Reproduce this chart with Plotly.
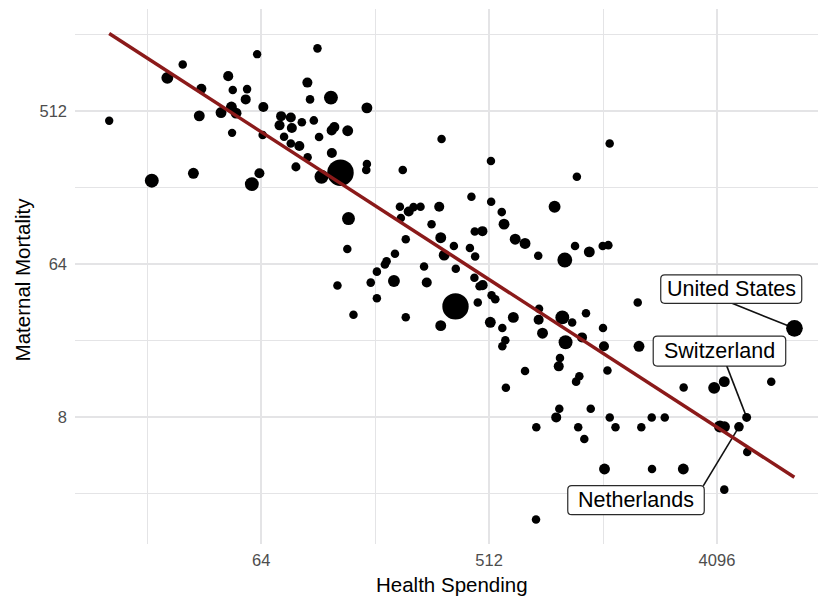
import math
import plotly.graph_objects as go

# ---- data ----
spending = [16.0, 31.3, 27.2, 23.6, 34.5, 37.1, 36.4, 47.4, 49.4, 56.3,
            55.6, 61.7, 44.4, 48.8, 50.9, 49.1, 65.3, 64.9, 63.0, 58.8,
            107, 97.6, 100, 121, 168, 76.8, 83.9, 75.7, 84.7, 92.8,
            103.5, 78.9, 83.9, 90.7, 97.8, 87.9, 108.6, 121.8, 124.8, 141,
            122, 168, 167, 132, 111, 233, 332, 142, 140.5, 128.4,
            174, 184, 198, 201, 217, 215, 184, 239.5, 227, 246,
            257, 274, 229, 325, 303, 329.5, 371.5, 430, 451, 340,
            283, 378, 448, 290, 469.5, 483, 524, 542, 462, 377,
            148.6, 239.5, 329.5, 518, 578, 639, 594, 578, 711, 597,
            521, 436, 522, 575, 587, 449.5, 482, 650, 711, 802,
            1022, 1122, 1278, 1444, 1520, 931, 1141, 1539, 808, 805,
            999, 1093, 1240, 834, 1029, 1196, 1448, 1461, 2011, 1988,
            978, 967, 1167, 1133, 1508, 3023, 3992, 4379, 6722, 972,
            945, 1295, 788, 1155, 1221, 1540, 1623, 2054, 2259, 2544,
            4208, 4387, 5006, 5370, 5399, 1468, 2265, 3013, 4379, 786,
            8306]
mortality = [449, 965, 804, 199, 220, 693, 480, 823, 681, 690,
             600, 1109, 502, 541, 498, 381, 541, 370, 220, 190,
             1200, 754, 600, 615, 535, 478, 469, 422, 407, 440,
             451, 361, 330, 319, 274, 240, 360, 394, 412, 392,
             290, 250, 230, 222, 210, 230, 350, 119, 78.7, 47.9,
             49.9, 57.9, 63.8, 66.7, 73.8, 51, 40.3, 89.8, 139.8, 131,
             139, 139.8, 120, 139.8, 110, 91.8, 82, 79.9, 71, 72.4,
             62, 60.2, 53.2, 50, 47.4, 48.2, 42, 39.8, 38.1, 36.1,
             32.2, 31.2, 27.8, 29.1, 26.9, 31.1, 22.8, 21, 15, 11.95,
             260, 160, 149.6, 130, 110.3, 99.9, 100.3, 89.9, 84.9, 71.9,
             67.8, 82, 75.7, 82, 82.9, 139.8, 210, 330, 35, 30.1,
             31.1, 29, 32.9, 25.1, 22.2, 23.7, 26.9, 21, 21, 38.1,
             17.9, 16, 14, 13, 15.1, 12, 11.95, 13, 13, 9.0,
             8.0, 9.0, 7.0, 7.0, 5.96, 8.0, 7.0, 7.0, 8.0, 8.0,
             7.07, 7.04, 7.04, 8.0, 5.0, 3.97, 3.97, 3.97, 3.0, 2.0,
             26.8]
population = [3, 4, 75, 160, 45, 25, 45, 25, 4, 4,
              25, 3, 45, 45, 45, 3, 25, 4, 25, 160,
              4, 25, 5, 160, 45, 25, 25, 25, 25, 5,
              5, 4, 5, 25, 4, 10, 5, 25, 25, 45,
              25, 4, 5, 1400, 160, 5, 4, 115, 4, 4,
              5, 4, 5, 5, 4, 75, 4, 4, 4, 25,
              4, 4, 4, 25, 4, 45, 4, 4, 4, 45,
              4, 4, 4, 25, 4, 25, 4, 5, 4, 1380,
              4, 4, 45, 45, 4, 45, 4, 4, 4, 4,
              4, 4, 4, 5, 45, 4, 25, 45, 45, 4,
              210, 4, 45, 4, 5, 75, 4, 4, 4, 25,
              160, 4, 4, 45, 160, 25, 4, 25, 45, 4,
              4, 25, 4, 5, 4, 4, 75, 45, 4, 4,
              25, 4, 4, 4, 4, 4, 4, 4, 4, 4,
              75, 45, 17, 8.6, 4, 45, 4, 45, 4, 4,
              330]

# fitted trend (endpoints)
trend_spending = [16.0, 8300]
trend_mortality = [1470, 3.55]

# labelled countries
label_names = ["United States", "Switzerland", "Netherlands"]
label_point_x = [8306, 5370, 5006]
label_point_y = [26.8, 8.0, 7.04]
label_box_x = [4666, 4191, 1957]
label_box_y = [45.7, 19.7, 2.6]
label_line_x = [4702, 4477, 3615]
label_line_y = [37.7, 16.1, 3.16]

x_ticks = [64, 512, 4096]
y_ticks = [8, 64, 512]

# ---- styling ----
FONT = "Liberation Sans, Arial, Helvetica, sans-serif"
GRID = "#e4e4e6"
LABEL_BOX_PX = [(141, 28.5), (132.5, 30), (136.5, 29)]  # box width, height in px
CORNER = 4

pmax = max(population)
sizes = [7.5 + 19 * math.sqrt(p) / math.sqrt(pmax) for p in population]

fig = go.Figure()

# leader lines for labels
lx, ly = [], []
for i in range(len(label_names)):
    lx += [label_line_x[i], label_point_x[i], None]
    ly += [label_line_y[i], label_point_y[i], None]
fig.add_trace(go.Scatter(x=lx, y=ly, mode="lines",
                         line=dict(color="#111111", width=1.6),
                         hoverinfo="skip", showlegend=False))

fig.add_trace(go.Scatter(x=spending, y=mortality, mode="markers",
                         marker=dict(color="black", size=sizes, opacity=1,
                                     line=dict(width=0)),
                         showlegend=False))

fig.add_trace(go.Scatter(x=trend_spending, y=trend_mortality, mode="lines",
                         line=dict(color="#8b1a1a", width=3.5),
                         hoverinfo="skip", showlegend=False))


def rounded_rect(w, h, r):
    W, H = w / 2.0, h / 2.0
    return (f"M {-W + r},{-H} L {W - r},{-H} Q {W},{-H} {W},{-H + r} "
            f"L {W},{H - r} Q {W},{H} {W - r},{H} L {-W + r},{H} "
            f"Q {-W},{H} {-W},{H - r} L {-W},{-H + r} Q {-W},{-H} {-W + r},{-H} Z")


for i, name in enumerate(label_names):
    w, h = LABEL_BOX_PX[i]
    fig.add_shape(type="path", xref="x", yref="y",
                  xsizemode="pixel", ysizemode="pixel",
                  xanchor=label_box_x[i], yanchor=label_box_y[i],
                  path=rounded_rect(w, h, CORNER),
                  fillcolor="white", line=dict(color="#2a2a2a", width=1.2),
                  layer="above")
    fig.add_annotation(x=math.log10(label_box_x[i]), y=math.log10(label_box_y[i]),
                       xref="x", yref="y", text=name, showarrow=False,
                       font=dict(family=FONT, size=21.5, color="black"),
                       xanchor="center", yanchor="middle")

minor_x = [t * math.sqrt(8) for t in [8] + x_ticks]
minor_y = [t * math.sqrt(8) for t in [1] + y_ticks]

fig.add_annotation(text="Health Spending", xref="paper", yref="paper",
                   x=0.507, y=-0.076, showarrow=False, xanchor="center", yanchor="middle",
                   font=dict(family=FONT, size=20.5, color="black"))
fig.add_annotation(text="Maternal Mortality", xref="paper", yref="paper",
                   x=-0.071, y=0.495, showarrow=False, xanchor="center", yanchor="middle",
                   textangle=-90, font=dict(family=FONT, size=20.5, color="black"))

fig.update_layout(
    width=818, height=597,
    margin=dict(l=75, r=0, t=9, b=53, pad=0),
    plot_bgcolor="white", paper_bgcolor="white",
    font=dict(family=FONT),
    showlegend=False,
    xaxis=dict(type="log", range=[3.55 * math.log10(2), 13.33 * math.log10(2)],
               tickvals=x_ticks, ticktext=[str(v) for v in x_ticks],
               showgrid=True, gridcolor=GRID, gridwidth=1.6,
               minor=dict(tickvals=minor_x, showgrid=True, gridcolor=GRID, gridwidth=1.2),
               zeroline=False, showline=False, ticks="",
               tickfont=dict(family=FONT, size=16.5, color="#4d4d4d"),
               ticklabelstandoff=4),
    yaxis=dict(type="log", range=[0.52 * math.log10(2), 11.0 * math.log10(2)],
               tickvals=y_ticks, ticktext=[str(v) for v in y_ticks],
               showgrid=True, gridcolor=GRID, gridwidth=1.6,
               minor=dict(tickvals=minor_y, showgrid=True, gridcolor=GRID, gridwidth=1.2),
               zeroline=False, showline=False, ticks="",
               tickfont=dict(family=FONT, size=16.5, color="#4d4d4d"),
               ticklabelstandoff=7),
)

fig.write_html("out.html", config={"displayModeBar": False},
               post_script="document.body.style.margin='0';document.body.style.padding='0';")
